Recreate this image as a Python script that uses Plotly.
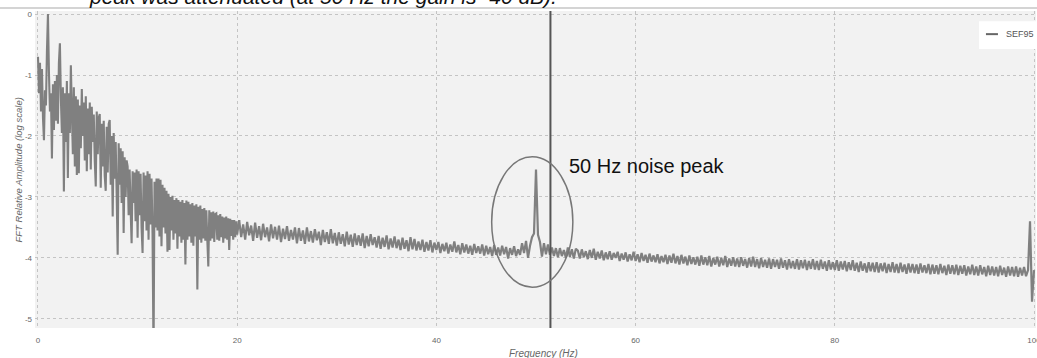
import plotly.graph_objects as go

# ---- data ----
# 0 - 20 Hz, one value per 0.1 Hz (log10 relative amplitude)
amp_low = [
    -0.70, -1.30, -0.80, -1.60, -0.90, -1.70, -2.07, -1.25, -1.50, -0.60,
    0.00, -0.95, -1.60, -1.30, -2.37, -1.15, -1.90, -1.10, -1.75, -1.00,
    -1.80, -0.80, -0.48, -1.40, -1.95, -1.20, -2.91, -1.30, -2.10, -1.10,
    -2.69, -1.30, -1.95, -0.84, -1.60, -2.30, -1.20, -2.50, -1.35, -2.64,
    -1.40, -2.61, -1.50, -2.20, -1.23, -2.00, -1.45, -2.40, -1.35, -2.58,
    -1.55, -2.30, -1.45, -2.55, -1.52, -2.10, -1.65, -2.40, -2.83, -1.60,
    -2.30, -1.70, -1.64, -2.85, -1.80, -2.50, -1.75, -2.65, -2.90, -1.85,
    -2.60, -1.80, -1.74, -2.80, -2.00, -3.32, -1.95, -2.70, -2.10, -2.95,
    -3.95, -2.12, -2.80, -2.20, -3.10, -2.25, -3.59, -2.35, -3.00, -2.40,
    -2.50, -3.30, -2.55, -3.20, -3.76, -2.58, -3.10, -2.60, -3.40, -2.55,
    -3.67, -2.58, -3.30, -2.62, -3.50, -3.92, -2.60, -3.40, -2.65, -3.55,
    -2.58, -3.70, -2.62, -3.45, -2.70, -3.60, -5.60, -2.75, -3.50, -2.70,
    -3.55, -2.70, -3.65, -2.72, -3.81, -2.80, -3.50, -2.85, -3.60, -2.90,
    -3.90, -2.95, -3.87, -3.00, -3.55, -2.98, -3.70, -3.05, -3.60, -3.02,
    -3.85, -3.05, -3.65, -3.08, -3.75, -3.05, -3.70, -3.10, -4.11, -3.06,
    -3.70, -3.08, -3.65, -3.12, -3.75, -3.10, -3.80, -3.14, -3.65, -3.12,
    -4.52, -3.16, -3.70, -3.14, -3.75, -3.20, -3.68, -3.18, -3.72, -3.22,
    -3.70, -4.14, -3.22, -3.72, -3.25, -3.68, -3.24, -3.74, -3.28, -3.27,
    -3.70, -3.30, -3.72, -3.28, -3.66, -3.32, -3.75, -3.34, -3.68, -3.32,
    -3.70, -3.35, -3.87, -3.36, -3.64, -3.38, -3.70, -3.38, -3.66, -3.40,
    -3.62,
]
# 20.2 - 100 Hz, one value per 0.2 Hz
amp_high = [
    -3.38, -3.66, -3.45, -3.70, -3.41, -3.63, -3.47, -3.72, -3.42, -3.67,
    -3.48, -3.71, -3.44, -3.66, -3.50, -3.73, -3.45, -3.68, -3.49, -3.70,
    -3.47, -3.74, -3.52, -3.69, -3.48, -3.72, -3.54, -3.70, -3.50, -3.76,
    -3.51, -3.72, -3.55, -3.77, -3.50, -3.73, -3.56, -3.75, -3.53, -3.71,
    -3.57, -3.79, -3.54, -3.74, -3.58, -3.77, -3.53, -3.76, -3.59, -3.80,
    -3.58, -3.77, -3.61, -3.81, -3.57, -3.78, -3.62, -3.82, -3.60, -3.79,
    -3.63, -3.80, -3.60, -3.84, -3.64, -3.81, -3.61, -3.79, -3.66, -3.83,
    -3.64, -3.85, -3.67, -3.82, -3.63, -3.86, -3.68, -3.83, -3.65, -3.84,
    -3.70, -3.87, -3.67, -3.85, -3.71, -3.89, -3.66, -3.86, -3.69, -3.88,
    -3.73, -3.87, -3.70, -3.90, -3.74, -3.88, -3.71, -3.91, -3.75, -3.87,
    -3.74, -3.92, -3.77, -3.89, -3.75, -3.93, -3.78, -3.90, -3.73, -3.91,
    -3.79, -3.94, -3.76, -3.91, -3.78, -3.93, -3.80, -3.95, -3.77, -3.92,
    -3.81, -3.93, -3.78, -3.96, -3.80, -3.94, -3.82, -3.97, -3.79, -3.95,
    -3.83, -3.96, -3.80, -3.94, -3.82, -4.01, -3.84, -3.95, -3.81, -3.97,
    -3.86, -3.95, -3.76, -3.92, -3.72, -4.00, -3.80, -3.66, -3.60, -2.55,
    -3.62, -3.74, -3.98, -3.76, -3.94, -3.78, -3.95, -3.83, -3.97, -3.84,
    -3.99, -3.84, -3.97, -3.87, -4.00, -3.83, -3.98, -3.86, -4.01, -3.85,
    -3.88, -4.01, -3.86, -3.99, -3.89, -4.02, -3.87, -4.00, -3.85, -4.03,
    -3.90, -4.01, -3.88, -4.04, -3.91, -4.02, -3.89, -4.03, -3.92, -4.00,
    -3.90, -4.05, -3.93, -4.03, -3.91, -4.06, -3.94, -4.04, -3.90, -4.05,
    -3.94, -4.07, -3.92, -4.05, -3.95, -4.08, -3.93, -4.06, -3.96, -4.07,
    -3.94, -4.09, -3.97, -4.07, -3.95, -4.10, -3.96, -4.08, -3.93, -4.09,
    -3.97, -4.11, -3.95, -4.09, -3.98, -4.12, -3.96, -4.10, -3.99, -4.11,
    -3.98, -4.13, -3.96, -4.11, -3.99, -4.12, -3.97, -4.14, -4.00, -4.11,
    -3.98, -4.14, -4.00, -4.12, -3.97, -4.15, -4.01, -4.13, -3.99, -4.14,
    -4.01, -4.15, -3.99, -4.13, -4.02, -4.16, -4.00, -4.14, -3.98, -4.15,
    -4.02, -4.17, -4.00, -4.15, -4.03, -4.16, -4.01, -4.18, -4.02, -4.15,
    -4.03, -4.18, -4.01, -4.16, -4.04, -4.19, -4.02, -4.17, -4.05, -4.18,
    -4.02, -4.19, -4.04, -4.17, -4.03, -4.20, -4.05, -4.18, -4.02, -4.19,
    -4.05, -4.20, -4.03, -4.18, -4.06, -4.21, -4.04, -4.19, -4.07, -4.20,
    -4.04, -4.21, -4.06, -4.19, -4.05, -4.22, -4.07, -4.20, -4.04, -4.21,
    -4.08, -4.23, -4.06, -4.21, -4.09, -4.24, -4.07, -4.22, -4.08, -4.23,
    -4.07, -4.24, -4.09, -4.22, -4.08, -4.25, -4.10, -4.23, -4.07, -4.24,
    -4.10, -4.25, -4.08, -4.23, -4.11, -4.26, -4.09, -4.24, -4.10, -4.25,
    -4.11, -4.26, -4.09, -4.24, -4.12, -4.25, -4.10, -4.27, -4.11, -4.26,
    -4.12, -4.27, -4.10, -4.25, -4.13, -4.28, -4.11, -4.26, -4.12, -4.27,
    -4.11, -4.28, -4.13, -4.26, -4.12, -4.29, -4.14, -4.27, -4.11, -4.28,
    -4.14, -4.29, -4.12, -4.27, -4.15, -4.30, -4.13, -4.28, -4.14, -4.29,
    -4.15, -4.30, -4.13, -4.28, -4.16, -4.31, -4.14, -4.29, -4.15, -4.30,
    -4.14, -4.31, -4.16, -4.29, -4.15, -4.30, -4.20, -3.40, -4.72, -4.20,
]
freq_low = [round(i * 0.1, 1) for i in range(len(amp_low))]
freq_high = [round(20.2 + i * 0.2, 1) for i in range(len(amp_high))]

x_ticks = [0, 20, 40, 60, 80, 100]
y_ticks = [0, -1, -2, -3, -4, -5]
y_tick_text = ["0", "-1", "-2", "-3", "-4", "-5"]
sef95_freq = 51.45
series_name = "SEF95"
caption = "peak was attenuated (at 50 Hz the gain is -40 dB)."
peak_label = "50 Hz noise peak"
peak_label_pos = (53.1, -2.485)
ellipse_box = (45.55, -4.48, 53.7, -2.34)

FONT = "Liberation Sans, Arial, sans-serif"
GREY = "#808080"

fig = go.Figure()
# one series, drawn in two parts so the dense high-frequency band reads as solid
fig.add_trace(go.Scatter(
    x=freq_low + [freq_high[0]], y=amp_low + [amp_high[0]], mode="lines",
    name=series_name, line=dict(color=GREY, width=2.1, simplify=False),
    showlegend=False,
))
fig.add_trace(go.Scatter(
    x=freq_high, y=amp_high, mode="lines", name=series_name,
    line=dict(color=GREY, width=2.2, simplify=False), showlegend=False,
))

shapes = [
    # SEF95 vertical line
    dict(type="line", xref="x", yref="paper", x0=sef95_freq, x1=sef95_freq,
         y0=0, y1=1, line=dict(color="#555555", width=2)),
    # ellipse round the 50 Hz peak
    dict(type="circle", xref="x", yref="y",
         x0=ellipse_box[0], y0=ellipse_box[1], x1=ellipse_box[2], y1=ellipse_box[3],
         line=dict(color="#777777", width=1.5)),
    # rule under the cut caption
    dict(type="line", xref="paper", yref="paper", x0=-0.04, x1=1.01,
         y0=1.0095, y1=1.0095, line=dict(color="#d4d4d4", width=2)),
    # legend box
    dict(type="rect", xref="paper", yref="paper", x0=0.943, x1=1.01,
         y0=0.880, y1=0.968, fillcolor="white", line=dict(width=0), layer="above"),
    dict(type="line", xref="paper", yref="paper", x0=0.950, x1=0.962,
         y0=0.927, y1=0.927, line=dict(color="#666666", width=2), layer="above"),
]

annotations = [
    dict(text=caption, xref="paper", yref="paper", x=0.052, y=1.045,
         xanchor="left", yanchor="middle", showarrow=False,
         font=dict(family=FONT, size=21, color="#111111", style="italic")),
    dict(text=peak_label, xref="x", yref="y", x=peak_label_pos[0], y=peak_label_pos[1],
         xanchor="left", yanchor="middle", showarrow=False,
         font=dict(family=FONT, size=20, color="#111111")),
    dict(text=series_name, xref="paper", yref="paper", x=0.968, y=0.927,
         xanchor="left", yanchor="middle", showarrow=False,
         font=dict(family=FONT, size=9, color="#555555")),
    dict(text="FFT Relative Amplitude (log scale)", xref="paper", yref="paper",
         x=-0.016, y=0.5, xanchor="center", yanchor="middle", textangle=-90,
         showarrow=False, font=dict(family=FONT, size=9.5, color="#666666", style="italic")),
    dict(text="Frequency (Hz)", xref="paper", yref="paper", x=0.5075, y=-0.082,
         xanchor="center", yanchor="middle", showarrow=False,
         font=dict(family=FONT, size=10, color="#666666", style="italic")),
]

fig.update_layout(
    width=1037, height=358,
    margin=dict(l=35, r=1, t=11, b=30, pad=0, autoexpand=False),
    paper_bgcolor="white", plot_bgcolor="#f2f2f2",
    font=dict(family=FONT, size=8, color="#666666"),
    shapes=shapes, annotations=annotations, showlegend=False,
)
fig.update_xaxes(
    range=[-0.3, 100.2], tickvals=x_ticks, showgrid=True, gridcolor="#c4c4c4",
    griddash="dot", gridwidth=1, zeroline=False, showline=False,
    tickfont=dict(size=8, color="#666666"), ticks="", ticklabelstandoff=6,
    ticklabeloverflow="allow", automargin=False,
)
fig.update_yaxes(
    range=[-5.15, 0.05], tickvals=y_ticks, ticktext=y_tick_text, showgrid=True,
    gridcolor="#c4c4c4", griddash="dot", gridwidth=1, zeroline=False, showline=False,
    tickfont=dict(size=8, color="#666666"), ticks="", ticklabelstandoff=2,
    automargin=False,
)

fig.write_html(
    "out.html",
    config={"displayModeBar": False},
    post_script="document.body.style.margin='0';document.body.style.overflow='hidden';",
)
